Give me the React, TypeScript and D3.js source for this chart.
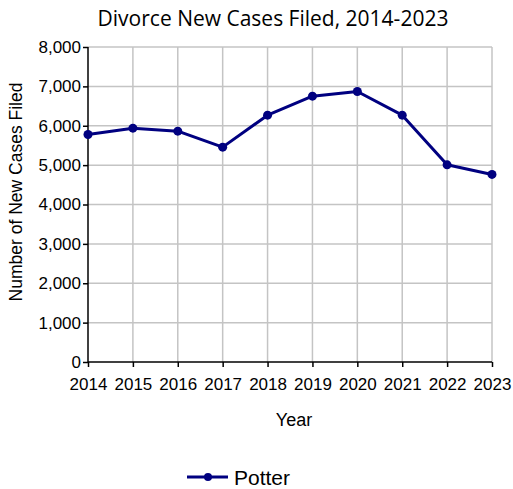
import { useEffect, useRef } from 'react';
import * as d3 from 'd3';

const years = ['2014', '2015', '2016', '2017', '2018', '2019', '2020', '2021', '2022', '2023'];
const potter = [5779, 5939, 5863, 5457, 6269, 6751, 6870, 6269, 5008, 4764];
const yTicks = [0, 1000, 2000, 3000, 4000, 5000, 6000, 7000, 8000];

export default function App() {
  const svgRef = useRef<SVGSVGElement>(null);

  useEffect(() => {
    if (!svgRef.current) return;
    const root = d3.select(svgRef.current);
    root.selectAll('*').remove();

    const W = 513;
    const H = 489;
    const margin = { top: 47, right: 21, bottom: 127, left: 88 };
    const width = W - margin.left - margin.right;
    const height = H - margin.top - margin.bottom;
    const sans = '"Liberation Sans", Arial, sans-serif';

    root.attr('width', W).attr('height', H);

    // Title
    root
      .append('text')
      .attr('x', 273)
      .attr('y', 26)
      .attr('text-anchor', 'middle')
      .style('font-family', '"Open Sans", sans-serif')
      .style('font-size', '21px')
      .style('fill', '#000')
      .text('Divorce New Cases Filed, 2014-2023');

    const svg = root.append('g').attr('transform', `translate(${margin.left},${margin.top})`);

    const x = d3.scalePoint<string>().domain(years).range([0, width]);
    const y = d3.scaleLinear().domain([0, 8000]).range([height, 0]);

    // Gridlines
    svg
      .append('g')
      .selectAll('line')
      .data(yTicks.slice(1))
      .enter()
      .append('line')
      .attr('x1', 0)
      .attr('x2', width)
      .attr('y1', (d) => y(d))
      .attr('y2', (d) => y(d))
      .attr('stroke', '#c4c4c4')
      .attr('stroke-width', 1.5);

    svg
      .append('g')
      .selectAll('line')
      .data(years.slice(1))
      .enter()
      .append('line')
      .attr('x1', (d) => x(d)!)
      .attr('x2', (d) => x(d)!)
      .attr('y1', 0)
      .attr('y2', height)
      .attr('stroke', '#c4c4c4')
      .attr('stroke-width', 1.5);

    // Y axis
    const yAxis = svg
      .append('g')
      .call(
        d3
          .axisLeft(y)
          .tickValues(yTicks)
          .tickSize(5)
          .tickPadding(2)
          .tickFormat(d3.format(',') as any)
      );
    yAxis.select('.domain').attr('stroke', '#000').attr('stroke-width', 1.5).attr('d', `M0,0V${height}`);
    yAxis.selectAll('.tick line').attr('stroke', '#000').attr('stroke-width', 1.5);
    yAxis
      .selectAll('text')
      .style('font-family', sans)
      .style('font-size', '17px')
      .style('fill', '#000');

    // X axis
    const xAxis = svg
      .append('g')
      .attr('transform', `translate(0,${height})`)
      .call(d3.axisBottom(x).tickSize(5).tickPadding(11));
    xAxis.select('.domain').attr('stroke', '#000').attr('stroke-width', 1.5).attr('d', `M0,0H${width}`);
    xAxis.selectAll('.tick line').attr('stroke', '#000').attr('stroke-width', 1.5);
    xAxis
      .selectAll('text')
      .style('font-family', sans)
      .style('font-size', '17px')
      .style('fill', '#000');

    // Axis labels
    svg
      .append('text')
      .attr('transform', 'rotate(-90)')
      .attr('x', -145)
      .attr('y', -margin.left + 22)
      .style('text-anchor', 'middle')
      .style('font-family', sans)
      .style('font-size', '17.5px')
      .style('fill', '#000')
      .text('Number of New Cases Filed');

    svg
      .append('text')
      .attr('x', 206)
      .attr('y', height + 64)
      .style('text-anchor', 'middle')
      .style('font-family', sans)
      .style('font-size', '18px')
      .style('fill', '#000')
      .text('Year');

    // Line
    const line = d3
      .line<number>()
      .x((_, i) => x(years[i])!)
      .y((d) => y(d));

    svg
      .append('path')
      .datum(potter)
      .attr('fill', 'none')
      .attr('stroke', '#000080')
      .attr('stroke-width', 3)
      .attr('stroke-linejoin', 'round')
      .attr('d', line);

    svg
      .selectAll('.dot')
      .data(potter)
      .enter()
      .append('circle')
      .attr('class', 'dot')
      .attr('cx', (_, i) => x(years[i])!)
      .attr('cy', (d) => y(d))
      .attr('r', 4.5)
      .attr('fill', '#000080');

    // Legend
    const legend = root.append('g').attr('transform', 'translate(187,477)');
    legend
      .append('line')
      .attr('x1', 0)
      .attr('x2', 41)
      .attr('y1', 0)
      .attr('y2', 0)
      .attr('stroke', '#000080')
      .attr('stroke-width', 3);
    legend.append('circle').attr('cx', 21).attr('cy', 0).attr('r', 4).attr('fill', '#000080');
    legend
      .append('text')
      .attr('x', 47)
      .attr('y', 8)
      .style('font-family', sans)
      .style('font-size', '21px')
      .style('fill', '#000')
      .text('Potter');
  }, []);

  return (
    <div style={{ position: 'absolute', left: 0, top: 0 }}>
      <svg ref={svgRef} style={{ display: 'block' }} />
    </div>
  );
}
